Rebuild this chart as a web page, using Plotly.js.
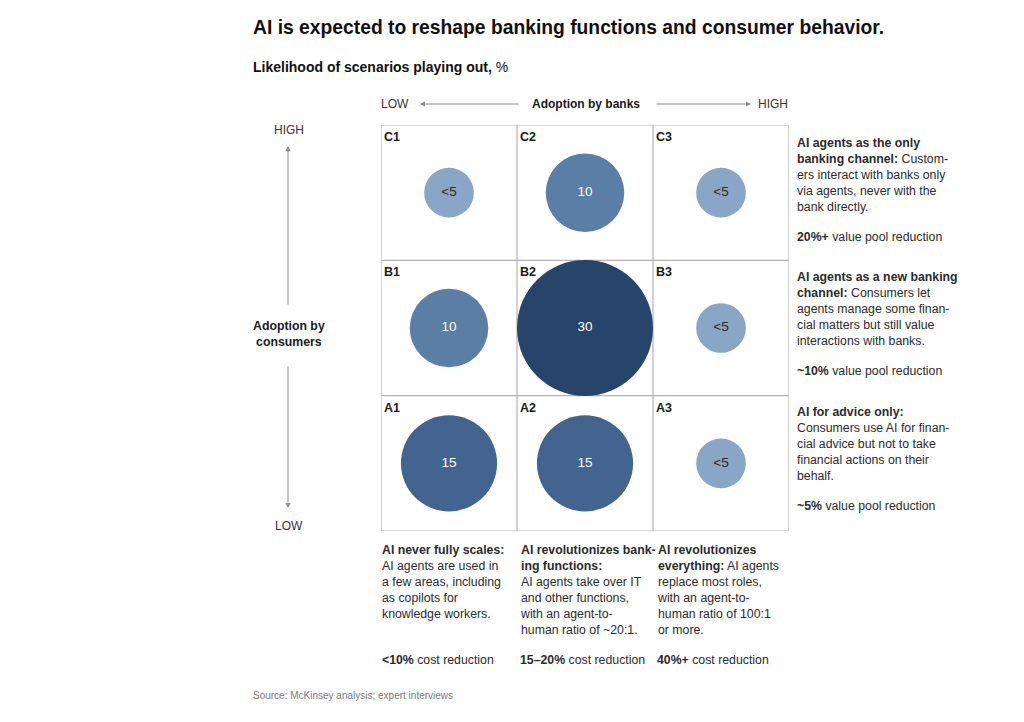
<!DOCTYPE html>
<html>
<head>
<meta charset="utf-8">
<script src="https://cdn.plot.ly/plotly-3.0.1.min.js"></script>
<style>
  html, body { margin: 0; padding: 0; background: #fff; }
  #chart { width: 1024px; height: 722px; }
</style>
</head>
<body>
<div id="chart"></div>
<script>
// ---- Data ----
const cells = ['A1', 'A2', 'A3', 'B1', 'B2', 'B3', 'C1', 'C2', 'C3'];
const bankAdoption = [1, 2, 3, 1, 2, 3, 1, 2, 3];          // column: low -> high
const consumerAdoption = [1, 1, 1, 2, 2, 2, 3, 3, 3];      // row: low -> high
const likelihood = [15, 15, 4, 10, 30, 4, 4, 10, 4];       // % (values shown as "<5" plotted as ~4)
const likelihoodLabels = ['15', '15', '<5', '10', '30', '<5', '<5', '10', '<5'];

const columnTitles = ['AI never fully scales:', 'AI revolutionizes banking functions:', 'AI revolutionizes everything:'];
const costReductionBold = ['<10%', '15\u201320%', '40%+'];
const rowTitles = ['AI for advice only:', 'AI agents as a new banking channel:', 'AI agents as the only banking channel:'];
const valueReductionBold = ['~5%', '~10%', '20%+'];

// ---- Styling helpers ----
const W = 1024, H = 722;
const X = px => px / W;
const Y = py => 1 - py / H;
const FONT = 'Liberation Sans, Arial, sans-serif';
const DARK = '#1a1a1a';
const BODY = '#2b2b2b';
const GRID = '#b3b3b3';
const ARROW = '#8c8c8c';

function bubbleColor(v) {
  if (v >= 30) return '#27446b';
  if (v >= 15) return '#42648f';
  if (v >= 10) return '#5b7ea6';
  return '#8aa6c6';
}
function labelColor(v) { return v < 5 ? '#2a2a2a' : '#ffffff'; }

const maxVal = Math.max(...likelihood);
const maxDiameter = 136;

const trace = {
  type: 'scatter',
  mode: 'markers+text',
  x: bankAdoption,
  y: consumerAdoption,
  text: likelihoodLabels,
  textposition: 'middle center',
  textfont: { family: FONT, size: 13.5, color: likelihood.map(labelColor) },
  marker: {
    size: likelihood,
    sizemode: 'area',
    sizeref: 2 * maxVal / (maxDiameter * maxDiameter),
    color: likelihood.map(bubbleColor),
    line: { width: 0 },
    opacity: 1
  },
  hoverinfo: 'skip',
  showlegend: false,
  cliponaxis: false
};

const shapes = [];
// grid frame and inner lines
shapes.push({ type: 'rect', xref: 'x', yref: 'y', x0: 0.5, x1: 3.5, y0: 0.5, y1: 3.5, line: { color: GRID, width: 1.2 }, layer: 'below' });
[1.5, 2.5].forEach(v => {
  shapes.push({ type: 'line', xref: 'x', yref: 'y', x0: v, x1: v, y0: 0.5, y1: 3.5, line: { color: GRID, width: 1.2 }, layer: 'below' });
  shapes.push({ type: 'line', xref: 'x', yref: 'y', x0: 0.5, x1: 3.5, y0: v, y1: v, line: { color: GRID, width: 1.2 }, layer: 'below' });
});

const annotations = [];
function txt(text, x, y, opts = {}) {
  annotations.push(Object.assign({
    xref: 'paper', yref: 'paper', x: X(x), y: Y(y), text: text, showarrow: false,
    xanchor: 'left', yanchor: 'middle', align: 'left', borderpad: 0,
    font: { family: FONT, size: 12.3, color: BODY }
  }, opts));
}
function arrow(hx, hy, tx, ty) {
  annotations.push({
    xref: 'paper', yref: 'paper', x: X(hx), y: Y(hy), ax: tx - hx, ay: ty - hy,
    axref: 'pixel', ayref: 'pixel', text: '', showarrow: true,
    arrowhead: 2, arrowsize: 1, arrowwidth: 1, arrowcolor: ARROW, standoff: 0, startstandoff: 0
  });
}

// Title and subtitle
txt('<b>AI is expected to reshape banking functions and consumer behavior.</b>', 252, 28, { font: { family: FONT, size: 19.3, color: '#111' } });
txt('<b>Likelihood of scenarios playing out,</b> %', 252, 67, { font: { family: FONT, size: 14, color: '#111' } });

// Cell labels
cells.forEach((c, i) => {
  annotations.push({
    xref: 'x', yref: 'y', x: bankAdoption[i] - 0.5, y: consumerAdoption[i] + 0.5,
    text: '<b>' + c + '</b>', showarrow: false, xanchor: 'left', yanchor: 'top',
    xshift: 2, yshift: -4, borderpad: 0,
    font: { family: FONT, size: 12.5, color: DARK }
  });
});

// Top axis
txt('LOW', 395, 104, { xanchor: 'center', font: { family: FONT, size: 12, color: '#333' } });
txt('<b>Adoption by banks</b>', 586, 104, { xanchor: 'center', font: { family: FONT, size: 12, color: DARK } });
txt('HIGH', 773, 104, { xanchor: 'center', font: { family: FONT, size: 12, color: '#333' } });
arrow(420, 104, 520, 104);
arrow(751, 104, 655, 104);

// Left axis
txt('HIGH', 289, 130, { xanchor: 'center', font: { family: FONT, size: 12, color: '#333' } });
txt('<b>Adoption by</b><br><b>consumers</b>', 289, 334, { xanchor: 'center', align: 'center', font: { family: FONT, size: 12.3, color: DARK } });
txt('LOW', 289, 526, { xanchor: 'center', font: { family: FONT, size: 12, color: '#333' } });
arrow(288, 146, 288, 306);
arrow(288, 508, 288, 365);

// Right descriptions (rows, top to bottom: C, B, A)
const rightBlocks = [
  { y: 135, text: '<b>AI agents as the only</b><br><b>banking channel:</b> Custom-<br>ers interact with banks only<br>via agents, never with the<br>bank directly.', vy: 237, v: valueReductionBold[2] },
  { y: 269, text: '<b>AI agents as a new banking</b><br><b>channel:</b> Consumers let<br>agents manage some finan-<br>cial matters but still value<br>interactions with banks.', vy: 371, v: valueReductionBold[1] },
  { y: 404, text: '<b>AI for advice only:</b><br>Consumers use AI for finan-<br>cial advice but not to take<br>financial actions on their<br>behalf.', vy: 506, v: valueReductionBold[0] }
];
rightBlocks.forEach(b => {
  txt(b.text, 796, b.y, { yanchor: 'top' });
  txt('<b>' + b.v + '</b> value pool reduction', 796, b.vy);
});

// Bottom descriptions (columns)
const bottomBlocks = [
  { x: 381, text: '<b>AI never fully scales:</b><br>AI agents are used in<br>a few areas, including<br>as copilots for<br>knowledge workers.' },
  { x: 519, text: '<b>AI revolutionizes bank-</b><br><b>ing functions:</b><br>AI agents take over IT<br>and other functions,<br>with an agent-to-<br>human ratio of ~20:1.' },
  { x: 656, text: '<b>AI revolutionizes</b><br><b>everything:</b> AI agents<br>replace most roles,<br>with an agent-to-<br>human ratio of 100:1<br>or more.' }
];
bottomBlocks.forEach((b, i) => {
  txt(b.text, b.x, 542, { yanchor: 'top' });
  txt('<b>' + costReductionBold[i] + '</b> cost reduction', b.x, 660);
});

// Source
txt('Source: McKinsey analysis; expert interviews', 252, 695, { font: { family: FONT, size: 10, color: '#7a7a7a' } });

const layout = {
  width: W, height: H,
  margin: { l: 0, r: 0, t: 0, b: 0 },
  paper_bgcolor: '#ffffff', plot_bgcolor: 'rgba(0,0,0,0)',
  xaxis: { domain: [X(381), X(789)], range: [0.5, 3.5], visible: false, fixedrange: true },
  yaxis: { domain: [Y(531), Y(125)], range: [0.5, 3.5], visible: false, fixedrange: true },
  shapes: shapes,
  annotations: annotations,
  showlegend: false
};

Plotly.newPlot('chart', [trace], layout, { displayModeBar: false, staticPlot: true });
</script>
</body>
</html>
